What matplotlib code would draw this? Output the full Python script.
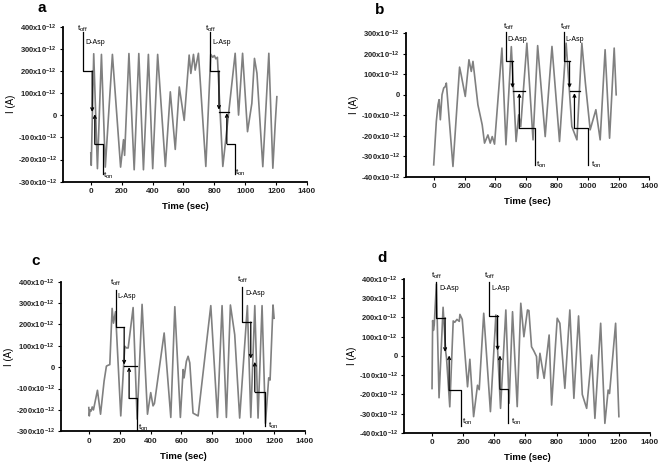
import matplotlib
matplotlib.use('Agg')
import matplotlib.pyplot as plt

plt.rcParams['font.family'] = ['Liberation Sans', 'DejaVu Sans']
plt.rcParams['mathtext.fontset'] = 'custom'
plt.rcParams['mathtext.rm'] = 'Liberation Sans'
plt.rcParams['mathtext.it'] = 'Liberation Sans:italic'
plt.rcParams['mathtext.bf'] = 'Liberation Sans:bold'

# current traces, time in s, current in units of 1e-12 A
A_T = [0, 3, 19, 43, 69, 94, 140, 193, 212, 219, 247, 281, 311, 341, 373, 401, 433,
       483, 515, 547, 573, 605, 637, 648, 665, 676, 697, 745, 777, 790, 800, 810,
       820, 855, 935, 957, 983, 1015, 1043, 1060, 1076, 1114, 1153, 1179, 1195, 1205]
A_I = [-170, -226, 278, -241, 275, -234, 275, -234, -110, -181, 279, -246, 279, -246,
       275, -241, 275, -231, 106, -154, 128, -23, 272, 189, 275, 204, 280, -231, 275,
       262, 270, 255, 262, -231, 280, 1, 280, -74, 54, 257, 190, -232, 280, -239, -30, 84]

B_T = [0, 17, 28, 35, 43, 54, 65, 75, 82, 125, 168, 179, 205, 229, 244, 255, 287,
       315, 330, 352, 367, 380, 395, 443, 469, 504, 535, 552, 565, 605, 645, 675,
       724, 768, 817, 860, 897, 930, 962, 985, 1016, 1053, 1081, 1113, 1142, 1172, 1185]
B_I = [-342, -130, -49, -24, -122, 0, 33, 40, 57, -350, 135, 95, -8, 171, 114, 163,
       -49, -147, -236, -196, -236, -204, -241, 228, -244, 235, -228, -98, -155, 252,
       -220, 240, -204, 236, -228, 252, -155, -220, 252, 57, -171, -73, -220, 220,
       -212, 228, 0]

C_T = [0, 3, 8, 15, 22, 30, 56, 76, 99, 114, 125, 136, 151, 160, 173, 207, 233, 244,
       255, 287, 313, 345, 380, 401, 416, 425, 488, 531, 557, 593, 611, 617, 632,
       643, 654, 675, 708, 790, 833, 863, 891, 917, 945, 977, 1027, 1049, 1075,
       1096, 1122, 1144, 1165, 1174, 1193, 1200]
C_I = [-189, -228, -200, -205, -186, -200, -108, -220, -65, 5, 9, 12, 275, 206, 260,
       -228, 98, 90, 90, 279, -243, 294, -220, -119, -181, -170, 160, -235, 283,
       -235, -11, -50, 28, 51, 20, -215, -228, 288, -235, 288, -235, 291, 152, -238,
       288, -235, 288, -238, 288, -263, -50, -60, 291, 229]

D_T = [0, 4, 9, 14, 28, 45, 71, 88, 93, 114, 136, 146, 160, 175, 179, 194, 228, 243,
       267, 292, 303, 332, 375, 410, 440, 474, 495, 517, 547, 570, 590, 613, 622,
       639, 654, 671, 678, 693, 703, 720, 752, 768, 804, 821, 853, 885, 911, 941,
       965, 993, 1025, 1046, 1083, 1110, 1131, 1140, 1179, 1200]
D_I = [-169, 184, 133, 160, 374, -217, 253, 21, -10, -264, 182, 175, 190, 180, 216,
       190, -160, -17, -315, -152, -175, 222, -289, 213, -272, 239, -246, 230, -263,
       274, 100, 239, 236, 48, 26, -3, -116, 14, -36, -116, 109, -255, 196, 170,
       -168, 239, -220, 208, -200, -272, 5, -324, 170, -350, -177, -195, 170, -315]

# t_off / t_on step lines
A_PATH_T = [[-49, -49, 9], [79, 79, 26], [772, 772, 830], [830, 895], [935, 935, 881]]
A_PATH_I = [[375, 200, 200], [-267, -131, -131], [375, 200, 200], [15, 15], [-264, -128, -128]]
A_ARROWS = [(9, 200, 9, 15), (26, -131, 26, 5), (830, 200, 830, 25), (881, -128, 881, 10)]
A_OFF_POS = [(-54, 388), (772, 388)]
A_ON_POS = [(80, -272), (932, -262)]
A_NAMES = ['D-Asp', 'L-Asp']
A_NAME_POS = [(30, 330), (849, 330)]

B_PATH_T = [[469, 469, 512], [512, 590], [659, 659, 556], [843, 843, 882], [882, 951], [999, 999, 914]]
B_PATH_I = [[305, 163, 163], [16, 16], [-342, -163, -163], [305, 163, 163], [16, 16], [-342, -163, -163]]
B_ARROWS = [(512, 163, 512, 33), (556, -163, 556, 8), (882, 163, 882, 33), (914, -163, 914, 8)]
B_OFF_POS = [(487, 330), (853, 330)]
B_ON_POS = [(665, -342), (1021, -342)]
B_NAMES = ['D-Asp', 'L-Asp']
B_NAME_POS = [(540, 269), (918, 269)]

C_PATH_T = [[173, 173, 229], [229, 309], [315, 315, 261], [995, 995, 1049], [1139, 1139, 1075]]
C_PATH_I = [[361, 186, 186], [5, 5], [-294, -146, -146], [376, 211, 211], [-274, -115, -115]]
C_ARROWS = [(229, 186, 229, 12), (261, -146, 261, 0), (1049, 211, 1049, 40), (1075, -115, 1075, 25)]
C_OFF_POS = [(171, 396), (994, 407)]
C_ON_POS = [(318, -282), (1161, -274)]
C_NAMES = ['L-Asp', 'D-Asp']
C_NAME_POS = [(247, 330), (1075, 345)]

D_PATH_T = [[28, 28, 84], [185, 185, 110], [368, 368, 421], [490, 490, 436]]
D_PATH_I = [[383, 198, 198], [-362, -178, -178], [383, 210, 210], [-350, -172, -172]]
D_ARROWS = [(84, 198, 84, 21), (110, -178, 110, 3), (421, 210, 421, 29), (436, -172, 436, 3)]
D_OFF_POS = [(31, 417), (368, 417)]
D_ON_POS = [(191, -341), (507, -341)]
D_NAMES = ['D-Asp', 'L-Asp']
D_NAME_POS = [(110, 348), (443, 348)]

X_TICKS = [0, 200, 400, 600, 800, 1000, 1200, 1400]
A_YTICKS = [-300, -200, -100, 0, 100, 200, 300, 400]
B_YTICKS = [-400, -300, -200, -100, 0, 100, 200, 300]
C_YTICKS = [-300, -200, -100, 0, 100, 200, 300, 400]
D_YTICKS = [-400, -300, -200, -100, 0, 100, 200, 300, 400]


def ylab(v):
    if v == 0:
        return '0'
    return '%dx10$^{\\mathbf{-12}}$' % v


def panel(rect, letter, letter_xy, t, cur, yticks, path_t, path_i, arrows,
          off_pos, on_pos, names, name_pos):
    ax = fig.add_axes(rect)
    ax.plot(t, cur, color='#808080', lw=1.2)
    for pt, pi in zip(path_t, path_i):
        ax.plot(pt, pi, color='black', lw=0.9, clip_on=False)
    for t0, i0, t1, i1 in arrows:
        ax.annotate('', xy=(t1, i1), xytext=(t0, i0), annotation_clip=False,
                    arrowprops=dict(arrowstyle='->', lw=0.9, color='black',
                                    mutation_scale=5, shrinkA=0, shrinkB=0))
    for x, y in off_pos:
        ax.text(x, y, 't$_{\\rm off}$', fontsize=6, ha='center', va='center', clip_on=False)
    for x, y in on_pos:
        ax.text(x, y, 't$_{\\rm on}$', fontsize=6, ha='left', va='center', clip_on=False)
    for s, (x, y) in zip(names, name_pos):
        ax.text(x, y, s, fontsize=5, ha='center', va='center', clip_on=False)
    ax.set_xlim(-180, 1400)
    ax.set_ylim(yticks[0], yticks[-1])
    ax.set_xticks(X_TICKS)
    ax.set_xticklabels([str(v) for v in X_TICKS], fontsize=5.8, fontweight='bold', color='#222222')
    ax.set_yticks(yticks)
    ax.set_yticklabels([ylab(v) for v in yticks], fontsize=5.5, fontweight='bold', color='#222222')
    for side in ['top', 'right']:
        ax.spines[side].set_visible(False)
    for side in ['left', 'bottom']:
        ax.spines[side].set_linewidth(1.3)
    ax.tick_params(length=2.5, width=0.8, pad=2)
    ax.set_xlabel('Time (sec)', fontsize=6.8, fontweight='bold', labelpad=5)
    ax.set_ylabel('I (A)', fontsize=7, labelpad=1)
    fig.text(letter_xy[0] / 661, 1 - letter_xy[1] / 468, letter, fontsize=11,
             fontweight='bold', ha='center', va='center')
    return ax


fig = plt.figure(figsize=(6.61, 4.68), dpi=100)
panel([0.0953, 0.6117, 0.3691, 0.3312], 'a', (42, 8), A_T, A_I, A_YTICKS,
      A_PATH_T, A_PATH_I, A_ARROWS, A_OFF_POS, A_ON_POS, A_NAMES, A_NAME_POS)
panel([0.6142, 0.6224, 0.3681, 0.3064], 'b', (380, 10), B_T, B_I, B_YTICKS,
      B_PATH_T, B_PATH_I, B_ARROWS, B_OFF_POS, B_ON_POS, B_NAMES, B_NAME_POS)
panel([0.0923, 0.0784, 0.3691, 0.3197], 'c', (36, 261), C_T, C_I, C_YTICKS,
      C_PATH_T, C_PATH_I, C_ARROWS, C_OFF_POS, C_ON_POS, C_NAMES, C_NAME_POS)
panel([0.6112, 0.0748, 0.3722, 0.3291], 'd', (382, 258), D_T, D_I, D_YTICKS,
      D_PATH_T, D_PATH_I, D_ARROWS, D_OFF_POS, D_ON_POS, D_NAMES, D_NAME_POS)

fig.savefig('out.png', dpi=100)
